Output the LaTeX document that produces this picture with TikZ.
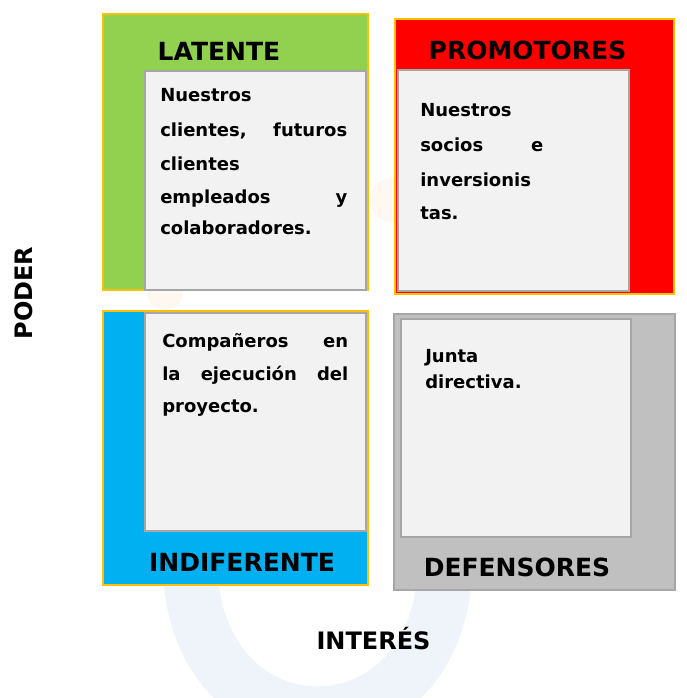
\documentclass[tikz,border=0pt]{standalone}
\usepackage{fontspec}
\setmainfont{DejaVu Sans}
\definecolor{qgreen}{HTML}{92D050}
\definecolor{qred}{HTML}{FF0000}
\definecolor{qblue}{HTML}{00B0F0}
\definecolor{qgray}{HTML}{C0C0C0}
\definecolor{qinner}{HTML}{F2F2F2}
\definecolor{qline}{HTML}{A6A6A6}
\definecolor{qorange}{HTML}{FFC000}
\definecolor{wmblue}{HTML}{EEF4F9}
\definecolor{wmorange}{HTML}{FFF8F0}
\tikzset{
  outerbox/.style={draw=qorange, line width=1.1pt},
  graybox/.style={fill=qgray, draw=qline, line width=1.3pt},
  innerbox/.style={fill=qinner, draw=qline, line width=1.3pt},
  title/.style={anchor=base, inner sep=0pt, font=\bfseries\fontsize{18.75}{22}\selectfont},
  body/.style={anchor=base west, inner sep=0pt, font=\bfseries\fontsize{13.5}{16}\selectfont},
  axislabel/.style={inner sep=0pt, font=\bfseries\fontsize{18}{22}\selectfont},
}
\begin{document}
\begin{tikzpicture}[x=0.75pt,y=-0.75pt]
\fill[white] (0,0) rectangle (686,698);
\useasboundingbox (0,0) rectangle (686,698);
% faint watermark
\begin{scope}
\clip (0,0) rectangle (686,698);
\draw[wmblue, line width=41pt] (190,560) .. controls (190,765) and (445,765) .. (445,560);
\fill[wmorange] (392,200) circle (22);
\fill[wmorange] (165,292) circle (18);
\end{scope}
% LATENTE
\fill[qgreen] (103,14) rectangle (368,290);
\draw[outerbox] (103,14) rectangle (368,290);
\draw[innerbox] (145,71) rectangle (366,290);
% PROMOTORES
\fill[qred] (395,19) rectangle (674,294);
\draw[outerbox] (395,19) rectangle (674,294);
\draw[innerbox] (398,70) rectangle (629,291);
% INDIFERENTE
\fill[qblue] (103,311) rectangle (368,585);
\draw[outerbox] (103,311) rectangle (368,585);
\draw[innerbox] (145,313) rectangle (366,531);
% DEFENSORES
\draw[graybox] (394,314) rectangle (675,590);
\draw[innerbox] (401,319) rectangle (631,537);
% titles
\node[title] (tlat) at (219,61) {LATENTE};
\node[title] (tpro) at (527.5,60) {PROMOTORES};
\node[title] (tind) at (242,571) {INDIFERENTE};
\node[title] (tdef) at (517,576) {DEFENSORES};
% body LATENTE
\node[body] (la1) at (160,102) {Nuestros};
\node[body] (la2) at (160,137) {\makebox[140.25pt][l]{clientes,\hfill futuros}};
\node[body] (la3) at (160,171) {clientes};
\node[body] (la4) at (160,204) {\makebox[140.25pt][l]{empleados\hfill y}};
\node[body] (la5) at (160,234) {colaboradores.};
% body PROMOTORES
\node[body] (pr1) at (420,117) {Nuestros};
\node[body] (pr2) at (420,152) {\makebox[92.25pt][l]{socios\hfill e}};
\node[body] (pr3) at (420,187) {inversionis};
\node[body] (pr4) at (420,220) {tas.};
% body INDIFERENTE
\node[body] (in1) at (162,347) {\makebox[139.5pt][l]{Compañeros\hfill en}};
\node[body] (in2) at (162,380) {\makebox[139.5pt][l]{la\hfill ejecución\hfill del}};
\node[body] (in3) at (162,412) {proyecto.};
% body DEFENSORES
\node[body] (de1) at (425,362) {Junta};
\node[body] (de2) at (425,388) {directiva.};
% axes
\node[axislabel, rotate=90] (poder) at (24,293) {PODER};
\node[axislabel, anchor=base] (interes) at (373.5,649) {INTERÉS};
\end{tikzpicture}
\end{document}
